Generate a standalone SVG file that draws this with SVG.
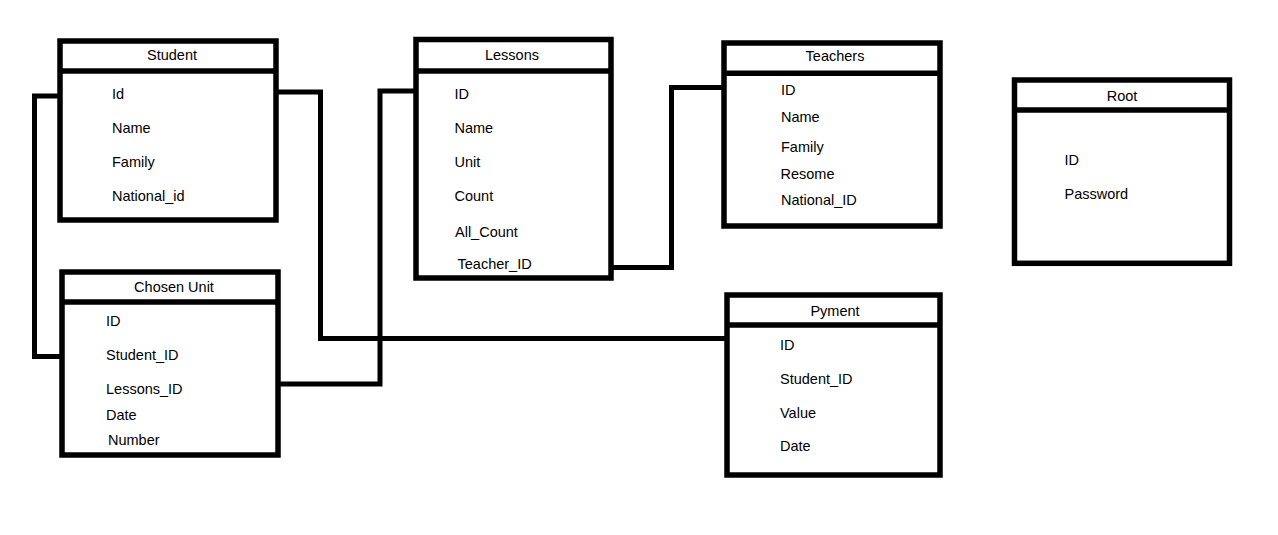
<svg xmlns="http://www.w3.org/2000/svg" width="1278" height="535" viewBox="0 0 1278 535">
  <style>
    .box { fill: #fff; stroke: #000; stroke-width: 5.5; }
    .div { stroke: #000; stroke-width: 5.5; }
    .link { fill: none; stroke: #000; stroke-width: 5; stroke-linejoin: miter; }
    text { font-family: "Liberation Sans", Arial, sans-serif; font-size: 14.5px; fill: #000; }
    .title { text-anchor: middle; }
  </style>
  <rect width="1278" height="535" fill="#fff"/>

  <!-- relationships -->
  <g id="connectors">
    <polyline class="link" points="60,96 34.5,96 34.5,356.5 62,356.5"/>
    <polyline class="link" points="276,92 320.5,92 320.5,338.5 727,338.5"/>
    <polyline class="link" points="278,384 380,384 380,91 416,91"/>
    <polyline class="link" points="611,267.5 671.5,267.5 671.5,87.5 724,87.5"/>
  </g>

  <g id="student">
    <rect class="box" x="60" y="41" width="216" height="179"/>
    <line class="div" x1="60" y1="71" x2="276" y2="71"/>
    <text class="title" x="172" y="60">Student</text>
    <text x="112" y="99">Id</text>
    <text x="112" y="133">Name</text>
    <text x="112" y="167">Family</text>
    <text x="112" y="201">National_id</text>
  </g>

  <g id="chosen-unit">
    <rect class="box" x="62" y="272" width="216" height="183"/>
    <line class="div" x1="62" y1="302" x2="278" y2="302"/>
    <text class="title" x="174" y="292">Chosen Unit</text>
    <text x="106" y="326">ID</text>
    <text x="106" y="360">Student_ID</text>
    <text x="106" y="394">Lessons_ID</text>
    <text x="106" y="420">Date</text>
    <text x="108" y="445">Number</text>
  </g>

  <g id="lessons">
    <rect class="box" x="416" y="39.5" width="195" height="238.5"/>
    <line class="div" x1="416" y1="71" x2="611" y2="71"/>
    <text class="title" x="512" y="60">Lessons</text>
    <text x="454.5" y="99">ID</text>
    <text x="454.5" y="133">Name</text>
    <text x="454.5" y="167">Unit</text>
    <text x="454.5" y="201">Count</text>
    <text x="455" y="237">All_Count</text>
    <text x="457.5" y="269">Teacher_ID</text>
  </g>

  <g id="teachers">
    <rect class="box" x="724" y="43" width="216" height="183"/>
    <line class="div" x1="724" y1="73.3" x2="940" y2="73.3"/>
    <text class="title" x="835" y="61">Teachers</text>
    <text x="781" y="95">ID</text>
    <text x="781" y="122">Name</text>
    <text x="781" y="152">Family</text>
    <text x="780.5" y="179">Resome</text>
    <text x="781" y="205">National_ID</text>
  </g>

  <g id="pyment">
    <rect class="box" x="727" y="295" width="213" height="180"/>
    <line class="div" x1="727" y1="325" x2="940" y2="325"/>
    <text class="title" x="835" y="316">Pyment</text>
    <text x="780" y="350">ID</text>
    <text x="780" y="384">Student_ID</text>
    <text x="780" y="418">Value</text>
    <text x="780" y="451">Date</text>
  </g>

  <g id="root">
    <rect class="box" x="1014.5" y="80" width="215" height="183.3"/>
    <line class="div" x1="1014.5" y1="110" x2="1229.5" y2="110"/>
    <text class="title" x="1122" y="101">Root</text>
    <text x="1064.5" y="165">ID</text>
    <text x="1064.5" y="199">Password</text>
  </g>
</svg>
